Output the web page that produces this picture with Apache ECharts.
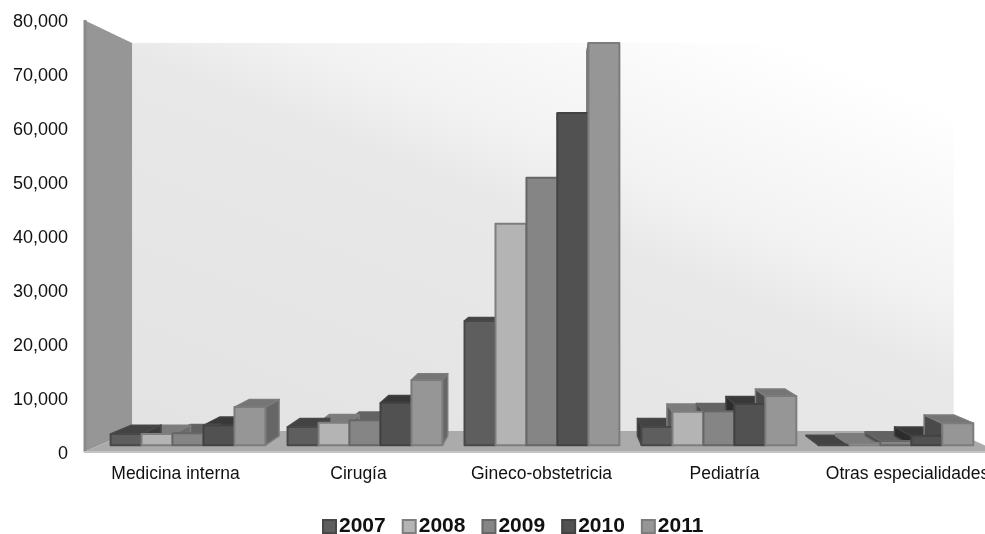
<!DOCTYPE html>
<html>
<head>
<meta charset="utf-8">
<style>
  html, body { margin: 0; padding: 0; background: #fff; overflow: hidden; }
  #chart { width: 985px; height: 534px; }
</style>
<script src="https://cdn.jsdelivr.net/npm/echarts@6/dist/echarts.min.js"></script>
</head>
<body>
<div id="chart"></div>
<script>
const categories = ['Medicina interna', 'Cirugía', 'Gineco-obstetricia', 'Pediatría', 'Otras especialidades'];
const years = ['2007', '2008', '2009', '2010', '2011'];

const v2007 = [2150, 3500, 23800, 3500, 100];
const v2008 = [2150, 4300, 42400, 6400, 400];
const v2009 = [2300, 4800, 51200, 6500, 800];
const v2010 = [3800, 8100, 63600, 7900, 1800];
const v2011 = [7300, 12500, 77000, 9400, 4200];
const allValues = [v2007, v2008, v2009, v2010, v2011];

// tonos de cada año: frente, borde, tapa, lado derecho, lado izquierdo
const fronts = ['#5e5e5e', '#b4b4b4', '#858585', '#515151', '#969696'];
const borders = ['#484848', '#7e7e7e', '#666666', '#424242', '#7c7c7c'];
const tops = ['#434343', '#7c7c7c', '#626262', '#383838', '#757575'];
const sidesRight = ['#3c3c3c', '#6e6e6e', '#565656', '#303030', '#666666'];
const sidesLeft = ['#3a3a3a', '#585858', '#4c4c4c', '#2c2c2c', '#4a4a4a'];

// punto de fuga de la perspectiva
const VP = [555, 246];
const BAR_PLANE = 0.033; // plano frontal de las barras
const BAR_DEPTH = 0.047; // fondo de las barras
const WALL_PLANE = 0.102; // pared del fondo
const BAR_WIDTH = 0.175; // fracción de la banda

function toVP(p, t) {
  return [p[0] + (VP[0] - p[0]) * t, p[1] + (VP[1] - p[1]) * t];
}

function renderWalls(params) {
  const cs = params.coordSys;
  const l = cs.x, r = cs.x + cs.width, t = cs.y, b = cs.y + cs.height;
  const bl = toVP([l, b], WALL_PLANE);
  const tl = toVP([l, t], WALL_PLANE);
  const br = toVP([r, b], WALL_PLANE);
  const tr = [br[0], tl[1]];
  return {
    type: 'group',
    children: [
      {
        type: 'polygon', z2: 0,
        shape: { points: [tl, tr, br, bl] },
        style: {
          fill: new echarts.graphic.LinearGradient(800, 50, 578, 608, [
            { offset: 0, color: '#ffffff' },
            { offset: 0.3, color: '#f2f2f2' },
            { offset: 0.42, color: '#e8e8e8' },
            { offset: 1, color: '#e3e3e3' }
          ], true)
        }
      },
      {
        type: 'polygon', z2: 1,
        shape: { points: [[l, t], tl, bl, [l, b]] },
        style: { fill: '#969696' }
      },
      {
        type: 'polygon', z2: 1,
        shape: { points: [[l, b], bl, br, [r, b]] },
        style: { fill: '#ababab' }
      },
      {
        type: 'line', z2: 2,
        shape: { x1: l + 1, y1: t, x2: l + 1, y2: b },
        style: { stroke: '#8a8a8a', lineWidth: 3 }
      },
      {
        type: 'line', z2: 2,
        shape: { x1: l, y1: b, x2: r, y2: b },
        style: { stroke: '#c4c4c4', lineWidth: 2 }
      }
    ]
  };
}

function makeBarRenderer(yearIdx) {
  return function (params, api) {
    const top = api.coord([api.value(0), api.value(1)]);
    const base = api.coord([api.value(0), 0]);
    const band = api.size([1, 0])[0] * (1 - BAR_PLANE);
    const w = band * BAR_WIDTH;
    const cx = toVP(top, BAR_PLANE)[0] + (yearIdx - 2) * w;
    const yTop = toVP(top, BAR_PLANE)[1];
    const yBase = toVP(base, BAR_PLANE)[1];
    const x0 = cx - w / 2, x1 = cx + w / 2;

    const bTL = toVP([x0, yTop], BAR_DEPTH);
    const bTR = toVP([x1, yTop], BAR_DEPTH);
    const rightOfVP = cx > VP[0];
    const sx = rightOfVP ? x0 : x1;
    const bSide = rightOfVP ? bTL : bTR;
    const bSideBase = toVP([sx, yBase], BAR_DEPTH);
    // lo más lejos del punto de fuga se pinta encima
    const order = 10 + Math.round(Math.abs(cx - VP[0]) / 2);
    const border = { stroke: borders[yearIdx], lineWidth: 1.5, lineJoin: 'round' };
    const sideFill = rightOfVP ? sidesLeft[yearIdx] : sidesRight[yearIdx];

    return {
      type: 'group',
      children: [
        {
          type: 'polygon', z2: order,
          shape: { points: [[sx, yTop], bSide, bSideBase, [sx, yBase]] },
          style: Object.assign({ fill: sideFill }, border)
        },
        {
          type: 'polygon', z2: order,
          shape: { points: [[x0, yTop], bTL, bTR, [x1, yTop]] },
          style: Object.assign({ fill: tops[yearIdx] }, border)
        },
        {
          type: 'rect', z2: 1000,
          shape: { x: x0, y: yTop, width: w, height: yBase - yTop },
          style: Object.assign({ fill: fronts[yearIdx] }, border, { lineWidth: 2 })
        }
      ]
    };
  };
}

const barSeries = years.map((year, i) => ({
  name: year,
  type: 'custom',
  coordinateSystem: 'cartesian2d',
  clip: false,
  silent: true,
  itemStyle: { color: fronts[i], borderColor: borders[i], borderWidth: 2 },
  encode: { x: 0, y: 1 },
  data: allValues[i].map((v, c) => [c, v]),
  renderItem: makeBarRenderer(i)
}));

const myChart = echarts.init(document.getElementById('chart'), null, { renderer: 'canvas' });

const option = {
  animation: false,
  backgroundColor: '#ffffff',
  grid: { left: 84, width: 915, top: 20, height: 432, outerBoundsMode: 'none' },
  xAxis: {
    type: 'category',
    data: categories,
    axisLine: { show: false },
    axisTick: { show: false },
    axisLabel: {
      interval: 0,
      margin: 13,
      color: '#111',
      fontFamily: '"Liberation Sans", Arial, sans-serif',
      fontSize: 17.5
    }
  },
  yAxis: {
    type: 'value',
    min: 0,
    max: 80000,
    interval: 10000,
    splitLine: { show: false },
    axisLine: { show: false },
    axisTick: { show: false },
    axisLabel: {
      margin: 16,
      color: '#111',
      fontFamily: '"Liberation Sans", Arial, sans-serif',
      fontSize: 18,
      verticalAlign: 'top',
      lineHeight: 4,
      formatter: (v) => v.toLocaleString('en-US')
    }
  },
  legend: {
    data: years,
    left: 317,
    top: 511,
    padding: 5,
    icon: 'rect',
    itemWidth: 13,
    itemHeight: 13,
    itemGap: 16,
    textStyle: {
      color: '#111',
      fontFamily: '"Liberation Sans", Arial, sans-serif',
      fontSize: 21,
      fontWeight: 'bold',
      padding: [0, 0, 0, -2]
    }
  },
  series: [
    {
      name: 'fondo',
      type: 'custom',
      coordinateSystem: 'cartesian2d',
      clip: false,
      silent: true,
      encode: { x: 0, y: 1 },
      data: [[0, 0]],
      renderItem: renderWalls
    }
  ].concat(barSeries)
};

myChart.setOption(option);
</script>
</body>
</html>
